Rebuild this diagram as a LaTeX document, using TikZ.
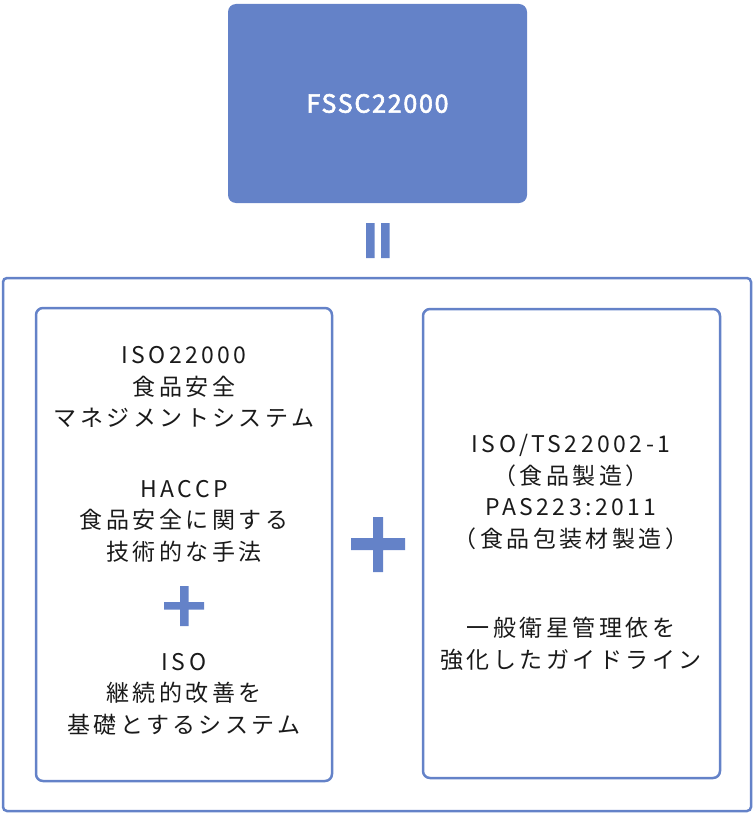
\documentclass[tikz,border=0pt]{standalone}
\usepackage{fontspec}
\newfontfamily\jpfont[LetterSpace=15]{Noto Sans CJK JP}
\newfontfamily\jptitle[LetterSpace=7,FakeBold=2.4]{Noto Sans CJK JP}
\usepackage{xcolor}
\definecolor{cMain}{HTML}{6482C8}
\definecolor{cText}{HTML}{1A1A1A}
\usetikzlibrary{positioning}
\tikzset{
  box-title/.style={fill=cMain,draw=none,rounded corners=8pt,
    minimum width=299pt,minimum height=199pt,text=white,
    font=\jptitle\fontsize{25}{30}\selectfont},
  box-outer/.style={draw=cMain,line width=2.5pt,rounded corners=4pt},
  box-inner/.style={draw=cMain,line width=2.5pt,rounded corners=7pt},
  txt/.style={align=center,inner sep=0pt,text=cText,
    font=\jpfont\fontsize{23}{31.5}\selectfont},
  sign/.style={fill=cMain,draw=none},
}
\begin{document}
\begin{tikzpicture}[x=1pt,y=-1pt]
  \useasboundingbox (0,0) rectangle (754,816);
  \node[box-title] (fssc) at (377.5,103.5) {FSSC22000};
  \node[box-outer,minimum width=748pt,minimum height=533pt] (outer) at (377,544.5) {};
  \node[box-inner,minimum width=296pt,minimum height=473pt] (lbox) at (184,544.5) {};
  \node[box-inner,minimum width=297pt,minimum height=469pt] (rbox) at (571.5,543.5) {};
  % left box
  \node[txt] (iso) at (184,387) {ISO22000\\食品安全\\マネジメントシステム};
  \node[txt] (haccp) at (184,521) {HACCP\\食品安全に関する\\技術的な手法};
  \node[txt] (kaizen) at (184,694) {ISO\\継続的改善を\\基礎とするシステム};
  % right box
  \node[txt] (ts) at (571,492) {ISO/TS22002-1\\（食品製造）\\PAS223:2011\\（食品包装材製造）};
  \node[txt] (guide) at (571,644) {一般衛星管理依を\\強化したガイドライン};
  % signs
  \fill[sign] (366,223) rectangle (374.5,258) (381,223) rectangle (389.5,258);
  \fill[sign] (351,538) rectangle (405,550) (373,517) rectangle (383,572);
  \fill[sign] (164,602) rectangle (204,609.5) (180,586) rectangle (188.5,626);
\end{tikzpicture}
\end{document}
